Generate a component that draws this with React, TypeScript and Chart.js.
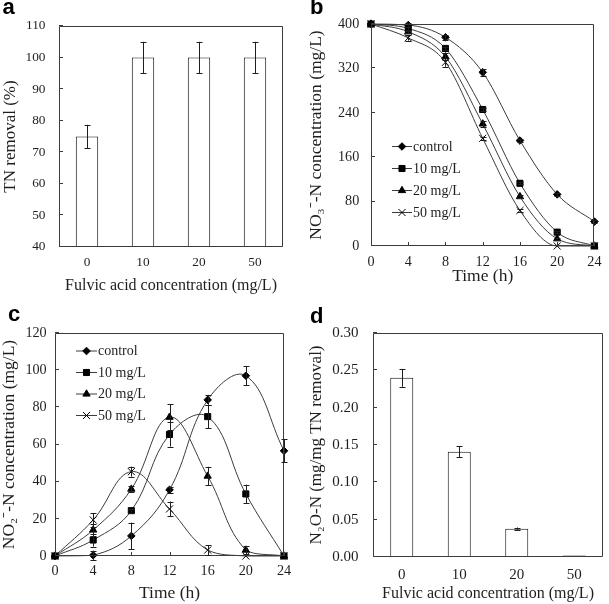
import React, { useEffect, useRef } from 'react';
import { Chart, registerables } from 'chart.js';
import { drawPoint } from 'chart.js/helpers';

Chart.register(...registerables);

const FONT = "'Liberation Serif', 'Times New Roman', serif";
const INK = '#1e1e1e';
const LINE = '#3c3c3c';

// ---------- Panel a ----------
const fulvicCats = ['0', '10', '20', '50'];
const tnRemoval = [75, 100, 100, 100];
const tnRemovalErr = [3.7, 5, 5, 5];

// ---------- Panels b and c ----------
const timeH = [0, 4, 8, 12, 16, 20, 24];
const seriesLabels = ['control', '10 mg/L', '20 mg/L', '50 mg/L'];
const seriesMarkers = ['rectRot', 'rect', 'triangle', 'crossRot'];
const seriesRadius = [3.8, 4.3, 4.2, 5];

const no3Control = [400, 398, 376, 313, 190, 93, 44];
const no3Fa10 = [400, 392, 356, 246, 113, 25, 0];
const no3Fa20 = [400, 386, 341, 220, 89, 13, 0];
const no3Fa50 = [400, 375, 331, 194, 64, 0, 0];
const no3ControlErr = [0, 3, 5, 6, 3, 3, 3];
const no3Fa10Err = [0, 2, 3, 3, 2, 2, 0];
const no3Fa20Err = [0, 2, 6, 6, 2, 2, 0];
const no3Fa50Err = [0, 5, 8, 3, 2, 0, 0];

const no2Control = [0, 0.4, 10.8, 35.6, 84, 97, 56.6];
const no2Fa10 = [0, 8.6, 24.4, 65.4, 75, 33.4, 0];
const no2Fa20 = [0, 14, 36, 74.7, 43, 3.2, 0];
const no2Fa50 = [0, 19.4, 45.4, 25.3, 3.2, 0, 0];
const no2ControlErr = [0, 2.5, 7.2, 1.5, 2.7, 5, 6.2];
const no2Fa10Err = [0, 3.5, 1, 6.5, 6.2, 5, 0];
const no2Fa20Err = [0, 3, 1.5, 7, 5, 2, 0];
const no2Fa50Err = [0, 3.6, 2.7, 4, 2.7, 0, 0];

// ---------- Panel d ----------
const n2oYield = [0.24, 0.141, 0.038, 0.002];
const n2oYieldErr = [0.012, 0.0075, 0.0015, 0];

// ---------- Plugins ----------
const frameTicks = {
  id: 'frameTicks',
  afterDatasetsDraw(chart: any, _args: any, opts: any) {
    const { ctx, chartArea: a } = chart;
    const L = Math.round(a.left), R = Math.round(a.right), T = Math.round(a.top), B = Math.round(a.bottom);
    ctx.save();
    ctx.strokeStyle = LINE;
    ctx.lineWidth = 1;
    ctx.beginPath();
    ctx.rect(L + 0.5, T + 0.5, R - L - 1, B - T - 1);
    ctx.stroke();
    const tl = 4;
    ctx.beginPath();
    const ys = chart.scales.y;
    ys.ticks.forEach((t: any) => {
      const y = Math.round(ys.getPixelForValue(t.value)) - 0.5;
      ctx.moveTo(L, y);
      ctx.lineTo(L + tl, y);
    });
    if (opts && opts.xTicks) {
      const xs = chart.scales.x;
      xs.ticks.forEach((t: any) => {
        const x = Math.round(xs.getPixelForValue(t.value)) + 0.5;
        ctx.moveTo(x, B);
        ctx.lineTo(x, B - tl);
      });
    }
    ctx.stroke();
    ctx.restore();
  },
};

const errorBars = {
  id: 'errorBars',
  afterDatasetsDraw(chart: any) {
    const { ctx } = chart;
    ctx.save();
    ctx.strokeStyle = INK;
    ctx.lineWidth = 1;
    chart.data.datasets.forEach((ds: any, i: number) => {
      const errs = ds.errors;
      if (!errs) return;
      const meta = chart.getDatasetMeta(i);
      const ys = chart.scales[meta.yAxisID];
      meta.data.forEach((el: any, j: number) => {
        const e = errs[j];
        if (!e) return;
        const p = meta.controller.getParsed(j);
        const x = Math.round(el.x) + 0.5;
        const y1 = ys.getPixelForValue(p.y + e);
        const y2 = ys.getPixelForValue(p.y - e);
        const cap = 3;
        ctx.beginPath();
        ctx.moveTo(x, y1);
        ctx.lineTo(x, y2);
        ctx.moveTo(x - cap, Math.round(y1) + 0.5);
        ctx.lineTo(x + cap, Math.round(y1) + 0.5);
        ctx.moveTo(x - cap, Math.round(y2) + 0.5);
        ctx.lineTo(x + cap, Math.round(y2) + 0.5);
        ctx.stroke();
      });
    });
    ctx.restore();
  },
};

const markerLegend = {
  id: 'markerLegend',
  afterDraw(chart: any, _args: any, opts: any) {
    if (!opts || !opts.show) return;
    const { ctx } = chart;
    ctx.save();
    chart.data.datasets.forEach((ds: any, i: number) => {
      const y = opts.y + i * opts.dy;
      ctx.strokeStyle = LINE;
      ctx.lineWidth = 1;
      ctx.beginPath();
      ctx.moveTo(opts.x, y + 0.5);
      ctx.lineTo(opts.x + opts.len, y + 0.5);
      ctx.stroke();
      ctx.fillStyle = '#000';
      ctx.strokeStyle = '#000';
      drawPoint(ctx, { pointStyle: ds.pointStyle, radius: ds.pointRadius, rotation: 0, borderWidth: 1 }, opts.x + opts.len / 2, y + 0.5);
      ctx.fillStyle = INK;
      ctx.font = `14px ${FONT}`;
      ctx.textBaseline = 'middle';
      ctx.textAlign = 'left';
      ctx.fillText(ds.label, opts.x + opts.len + 1, y + 1);
    });
    ctx.restore();
  },
};

Chart.register(frameTicks, errorBars, markerLegend);
Chart.defaults.font.family = FONT;
Chart.defaults.color = INK;

// ---------- Config builders ----------
type Geo = {
  yWidth: number; xHeight: number; top: number; right: number;
  yTickPad: number; xTickPad: number; yTitlePad: number; xTitlePad: number;
  tickSize: number; xTitleSize: number; yTitleSize: number;
};

function scalesFor(g: Geo, x: any, y: any, xTitle: string, yTitle: string) {
  return {
    x: {
      ...x,
      grid: { display: false, drawTicks: false },
      border: { display: false },
      ticks: { ...(x.ticks || {}), padding: g.xTickPad, font: { size: g.tickSize, family: FONT }, color: INK, maxRotation: 0, autoSkip: false },
      title: { display: true, text: xTitle, font: { size: g.xTitleSize, family: FONT }, color: INK, padding: { top: 0, bottom: g.xTitlePad } },
      afterFit: (s: any) => { s.height = g.xHeight; },
    },
    y: {
      ...y,
      grid: { display: false, drawTicks: false },
      border: { display: false },
      ticks: { ...(y.ticks || {}), padding: g.yTickPad, font: { size: g.tickSize, family: FONT }, color: INK },
      title: { display: true, text: yTitle, font: { size: g.yTitleSize, family: FONT }, color: INK, padding: { top: g.yTitlePad, bottom: 0 } },
      afterFit: (s: any) => { s.width = g.yWidth; },
    },
  };
}

function barConfig(g: Geo, values: number[], errs: number[], y: any, xTitle: string, yTitle: string) {
  return {
    type: 'bar',
    data: {
      labels: fulvicCats,
      datasets: [{
        label: yTitle,
        data: values,
        errors: errs,
        backgroundColor: '#ffffff',
        borderColor: '#111',
        borderWidth: 1,
        barPercentage: 0.4,
        categoryPercentage: 1,
      }],
    },
    options: {
      animation: false,
      responsive: false,
      layout: { padding: { top: g.top, right: g.right, left: 0, bottom: 0 } },
      plugins: { legend: { display: false }, tooltip: { enabled: false }, frameTicks: { xTicks: false } },
      scales: scalesFor(g, { type: 'category', offset: true }, y, xTitle, yTitle),
    },
  };
}

function lineConfig(g: Geo, series: number[][], errs: number[][], y: any, yTitle: string, legend: any, mode: string) {
  return {
    type: 'line',
    data: {
      datasets: series.map((s, i) => ({
        label: seriesLabels[i],
        data: timeH.map((t, k) => ({ x: t, y: s[k] })),
        errors: errs[i],
        borderColor: LINE,
        borderWidth: 1,
        pointStyle: seriesMarkers[i],
        pointRadius: seriesRadius[i],
        pointBackgroundColor: '#000',
        pointBorderColor: '#000',
        pointBorderWidth: 1,
        fill: false,
        tension: 0.4,
        cubicInterpolationMode: mode,
        clip: { left: 8, right: 8, top: 8, bottom: 6 },
      })),
    },
    options: {
      animation: false,
      responsive: false,
      layout: { padding: { top: g.top, right: g.right, left: 0, bottom: 0 } },
      plugins: { legend: { display: false }, tooltip: { enabled: false }, frameTicks: { xTicks: true }, markerLegend: legend },
      scales: scalesFor(g, { type: 'linear', min: 0, max: 24, ticks: { stepSize: 4 } }, y, 'Time (h)', yTitle),
    },
  };
}

const geoA: Geo = { yWidth: 59, xHeight: 53, top: 26, right: 17, yTickPad: 13.5, xTickPad: 8, yTitlePad: 0.6, xTitlePad: 4.9, tickSize: 13.3, xTitleSize: 16, yTitleSize: 17 };
const geoB: Geo = { yWidth: 71, xHeight: 54, top: 24, right: 8, yTickPad: 11.7, xTickPad: 7.5, yTitlePad: 6.2, xTitlePad: 13, tickSize: 14.2, xTitleSize: 17.5, yTitleSize: 17.5 };
const geoC: Geo = { yWidth: 55, xHeight: 48, top: 33, right: 16, yTickPad: 8.3, xTickPad: 7, yTitlePad: -1.3, xTitlePad: 0.2, tickSize: 14.2, xTitleSize: 17.5, yTitleSize: 17.5 };
const geoD: Geo = { yWidth: 73, xHeight: 47, top: 33, right: 6, yTickPad: 14.4, xTickPad: 9, yTitlePad: 6.5, xTitlePad: 0.4, tickSize: 15, xTitleSize: 16, yTitleSize: 17 };

const makeA = () => barConfig(geoA, tnRemoval, tnRemovalErr,
  { min: 40, max: 110, ticks: { stepSize: 10 } }, 'Fulvic acid concentration (mg/L)', 'TN removal (%)');

const makeB = () => lineConfig(geoB, [no3Control, no3Fa10, no3Fa20, no3Fa50],
  [no3ControlErr, no3Fa10Err, no3Fa20Err, no3Fa50Err],
  { min: 0, max: 400, ticks: { stepSize: 80 } }, 'NO\u2083\u207B-N concentration (mg/L)',
  { show: true, x: 92, y: 146, dy: 22, len: 20 }, 'monotone');

const makeC = () => lineConfig(geoC, [no2Control, no2Fa10, no2Fa20, no2Fa50],
  [no2ControlErr, no2Fa10Err, no2Fa20Err, no2Fa50Err],
  { min: 0, max: 120, ticks: { stepSize: 20 } }, 'NO\u2082\u207B-N concentration (mg/L)',
  { show: true, x: 76, y: 50.5, dy: 21.5, len: 21 }, 'default');

const makeD = () => barConfig(geoD, n2oYield, n2oYieldErr,
  { min: 0, max: 0.3, ticks: { stepSize: 0.05, callback: (v: any) => Number(v).toFixed(2) } },
  'Fulvic acid concentration (mg/L)', 'N\u2082O-N (mg/mg TN removal)');

function Panel(props: { make: () => any; left: number; top: number; width: number; height: number; letter: string; lx: number; ly: number }) {
  const ref = useRef<HTMLCanvasElement>(null);
  useEffect(() => {
    const chart = new Chart(ref.current as HTMLCanvasElement, props.make());
    return () => chart.destroy();
  }, []);
  return (
    <>
      <canvas ref={ref} width={props.width} height={props.height}
        style={{ position: 'absolute', left: props.left, top: props.top, width: props.width, height: props.height }} />
      <div style={{ position: 'absolute', left: props.lx, top: props.ly, font: "bold 22px 'Liberation Sans', Arial, sans-serif", lineHeight: '22px', color: '#000' }}>
        {props.letter}
      </div>
    </>
  );
}

export default function App() {
  return (
    <div style={{ position: 'fixed', left: 0, top: 0, width: 609, height: 604, background: '#fff' }}>
      <Panel make={makeA} left={0} top={0} width={300} height={300} letter="a" lx={2.5} ly={-3.6} />
      <Panel make={makeB} left={300} top={0} width={309} height={300} letter="b" lx={310} ly={-3.6} />
      <Panel make={makeC} left={0} top={300} width={300} height={304} letter="c" lx={8} ly={303} />
      <Panel make={makeD} left={300} top={300} width={309} height={304} letter="d" lx={310} ly={305.4} />
    </div>
  );
}
